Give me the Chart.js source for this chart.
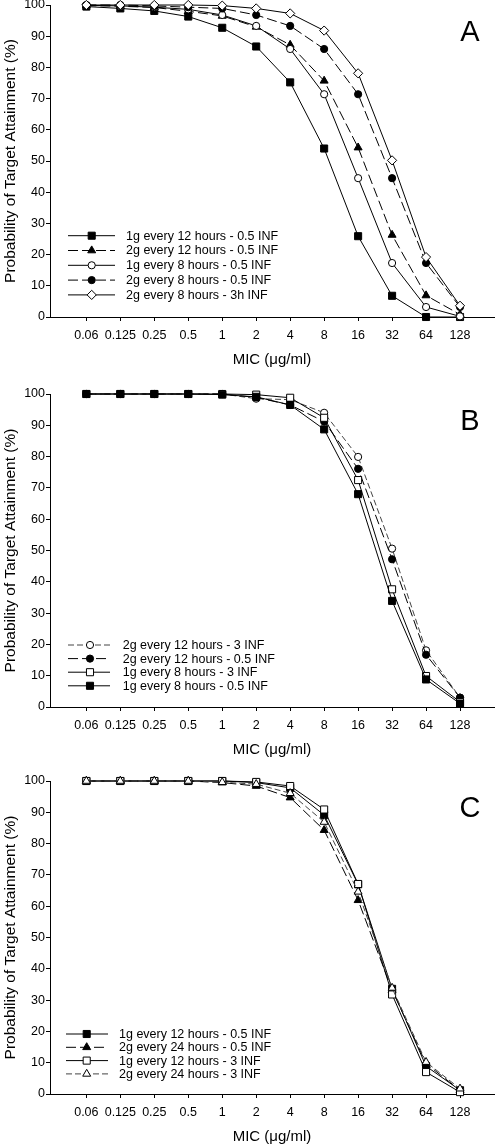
<!DOCTYPE html>
<html>
<head>
<meta charset="utf-8">
<script src="https://cdn.jsdelivr.net/npm/chart.js@4.4.1/dist/chart.umd.min.js"></script>
<style>
  html, body { margin: 0; padding: 0; background: #fff; overflow: hidden; }
  body { width: 500px; height: 1144px; position: relative; }
  .panel { position: absolute; left: 0; width: 500px; }
</style>
</head>
<body>
<div class="panel" style="top:-15px;height:387px"><canvas id="chartA"></canvas></div>
<div class="panel" style="top:374px;height:388px"><canvas id="chartB"></canvas></div>
<div class="panel" style="top:761px;height:388px"><canvas id="chartC"></canvas></div>
<script>
// MIC categories (x axis)
var MIC = ['0.06', '0.125', '0.25', '0.5', '1', '2', '4', '8', '16', '32', '64', '128'];
var Y_TICKS = [0, 10, 20, 30, 40, 50, 60, 70, 80, 90, 100];

// Panel A
var a1g12h05 = [99.5, 98.9, 98.1, 96.3, 92.7, 86.7, 75.2, 54.0, 25.9, 6.8, 0.0, 0.0];
var a2g12h05 = [99.8, 99.6, 99.2, 98.0, 96.5, 93.0, 87.2, 75.7, 54.3, 26.3, 6.9, 0.8];
var a1g8h05  = [99.9, 99.7, 99.3, 98.6, 96.8, 93.3, 85.9, 71.4, 44.5, 17.3, 3.2, 0.2];
var a2g8h05  = [100, 100, 99.7, 99.3, 98.9, 96.8, 93.3, 85.9, 71.4, 44.5, 17.3, 3.2];
var a2g8h3   = [100, 100, 100, 100, 99.8, 98.9, 97.3, 91.8, 78.1, 50.2, 19.2, 3.6];

// Panel B
var b2g12h3  = [100, 100, 100, 100, 100, 98.5, 98.2, 94.0, 79.9, 50.6, 18.1, 3.0];
var b2g12h05 = [100, 100, 100, 100, 100, 98.9, 96.5, 91.2, 76.1, 47.2, 16.7, 3.0];
var b1g8h3   = [100, 100, 100, 100, 100, 99.8, 98.8, 92.4, 72.5, 37.6, 9.9, 1.6];
var b1g8h05  = [100, 100, 100, 100, 99.8, 99.1, 96.5, 88.7, 68.0, 33.9, 8.8, 1.1];

// Panel C
var c1g12h05 = [100, 100, 100, 100, 100, 99.5, 97.8, 89.1, 67.0, 33.6, 8.9, 1.2];
var c2g24h05 = [100, 100, 100, 100, 99.5, 98.4, 94.7, 84.3, 61.9, 33.2, 9.7, 1.2];
var c1g12h3  = [100, 100, 100, 100, 100, 99.7, 98.4, 90.9, 67.1, 31.8, 7.0, 0.6];
var c2g24h3  = [100, 100, 100, 100, 99.6, 99.0, 96.1, 86.9, 64.6, 33.9, 10.2, 1.7];

Chart.defaults.font.family = '"Liberation Sans", Arial, sans-serif';
Chart.defaults.color = '#000';

var LONG_DASH = [10, 4];
var SHORT_DASH = [6, 3];

function series(label, values, style, filled, dash, color) {
  var r = style === 'rect' ? 5 : (style === 'circle' ? 3.6 : 4.6);
  return {
    label: label,
    data: values.map(function(v, i) { return { x: i, y: v }; }),
    showLine: true,
    tension: 0,
    borderColor: color || '#000',
    borderWidth: 1,
    borderDash: dash || [],
    pointStyle: style,
    pointRadius: r,
    pointHoverRadius: r,
    pointBorderColor: '#000',
    pointBorderWidth: 1,
    pointBackgroundColor: filled ? '#000' : '#fff',
    clip: false
  };
}

var panelDecor = {
  id: 'panelDecor',
  afterDatasetsDraw: function(chart, args, opts) {
    var ctx = chart.ctx;
    var top = chart.chartArea.top;
    ctx.save();
    // panel letter
    ctx.fillStyle = '#000';
    ctx.font = '29px "Liberation Sans", Arial, sans-serif';
    ctx.textAlign = 'center';
    ctx.textBaseline = 'alphabetic';
    ctx.fillText(opts.letter, 470, top + 35.5);

    // legend: dashed line with the marker in the middle
    ctx.font = '12.5px "Liberation Sans", Arial, sans-serif';
    ctx.textAlign = 'left';
    ctx.textBaseline = 'middle';
    chart.data.datasets.forEach(function(ds, i) {
      var y = top + opts.first + i * opts.step;
      ctx.strokeStyle = ds.borderColor;
      ctx.lineWidth = 1;
      ctx.setLineDash(ds.borderDash);
      ctx.beginPath();
      ctx.moveTo(opts.x0, y);
      ctx.lineTo(opts.x1, y);
      ctx.stroke();
      ctx.setLineDash([]);
      ctx.strokeStyle = '#000';
      ctx.fillStyle = ds.pointBackgroundColor;
      Chart.helpers.drawPoint(ctx, {
        pointStyle: ds.pointStyle, radius: ds.pointRadius, borderWidth: 1, rotation: 0
      }, opts.xm, y);
      ctx.fillStyle = '#000';
      ctx.fillText(ds.label, opts.tx, y + 0.5);
    });
    ctx.restore();
  }
};

function makeChart(id, datasets, decor) {
  datasets.forEach(function(ds, i) { ds.order = -i; });
  return new Chart(document.getElementById(id), {
    type: 'scatter',
    data: { datasets: datasets },
    plugins: [panelDecor],
    options: {
      responsive: true,
      maintainAspectRatio: false,
      animation: false,
      layout: { padding: { top: 20, left: 0, right: 0, bottom: 0 } },
      plugins: {
        legend: { display: false },
        tooltip: { enabled: false },
        panelDecor: decor
      },
      scales: {
        x: {
          type: 'linear',
          min: -1.07,
          max: 12.0,
          afterFit: function(s) { s.height = 55; },
          afterBuildTicks: function(s) { s.ticks = MIC.map(function(_, i) { return { value: i }; }); },
          grid: { drawOnChartArea: false, tickLength: 4, color: '#000', tickColor: '#000' },
          border: { color: '#000', width: 1 },
          ticks: {
            autoSkip: false, maxRotation: 0, padding: 7,
            font: { size: 12.5 },
            callback: function(v) { return MIC[v]; }
          },
          title: {
            display: true, text: 'MIC (μg/ml)',
            font: { size: 15 }, padding: { top: 0, bottom: 3 }
          }
        },
        y: {
          min: 0,
          max: 100,
          afterFit: function(s) { s.width = 50; },
          afterBuildTicks: function(s) { s.ticks = Y_TICKS.map(function(v) { return { value: v }; }); },
          grid: { drawOnChartArea: false, tickLength: 4, color: '#000', tickColor: '#000' },
          border: { color: '#000', width: 1 },
          ticks: { padding: 1, font: { size: 12.5 } },
          title: {
            display: true, text: 'Probability of Target Attainment (%)',
            font: { size: 15.5 }, padding: { top: 1, bottom: 0 }
          }
        }
      }
    }
  });
}

makeChart('chartA', [
  series('1g every 12 hours - 0.5 INF', a1g12h05, 'rect', true),
  series('2g every 12 hours - 0.5 INF', a2g12h05, 'triangle', true, LONG_DASH),
  series('1g every 8 hours - 0.5 INF', a1g8h05, 'circle', false),
  series('2g every 8 hours - 0.5 INF', a2g8h05, 'circle', true, LONG_DASH),
  series('2g every 8 hours - 3h INF', a2g8h3, 'rectRot', false)
], { letter: 'A', first: 230.7, step: 14.8, x0: 68, x1: 115, xm: 91.7, tx: 126 });

makeChart('chartB', [
  series('2g every 12 hours - 3 INF', b2g12h3, 'circle', false, SHORT_DASH, '#444'),
  series('2g every 12 hours - 0.5 INF', b2g12h05, 'circle', true, LONG_DASH),
  series('1g every 8 hours - 3 INF', b1g8h3, 'rect', false),
  series('1g every 8 hours - 0.5 INF', b1g8h05, 'rect', true)
], { letter: 'B', first: 251, step: 13.6, x0: 68, x1: 110, xm: 90, tx: 122.7 });

makeChart('chartC', [
  series('1g every 12 hours - 0.5 INF', c1g12h05, 'rect', true),
  series('2g every 24 hours - 0.5 INF', c2g24h05, 'triangle', true, LONG_DASH),
  series('1g every 12 hours - 3 INF', c1g12h3, 'rect', false),
  series('2g every 24 hours - 3 INF', c2g24h3, 'triangle', false, SHORT_DASH, '#444')
], { letter: 'C', first: 253, step: 13.3, x0: 66, x1: 108, xm: 86.7, tx: 119 });
</script>
</body>
</html>
